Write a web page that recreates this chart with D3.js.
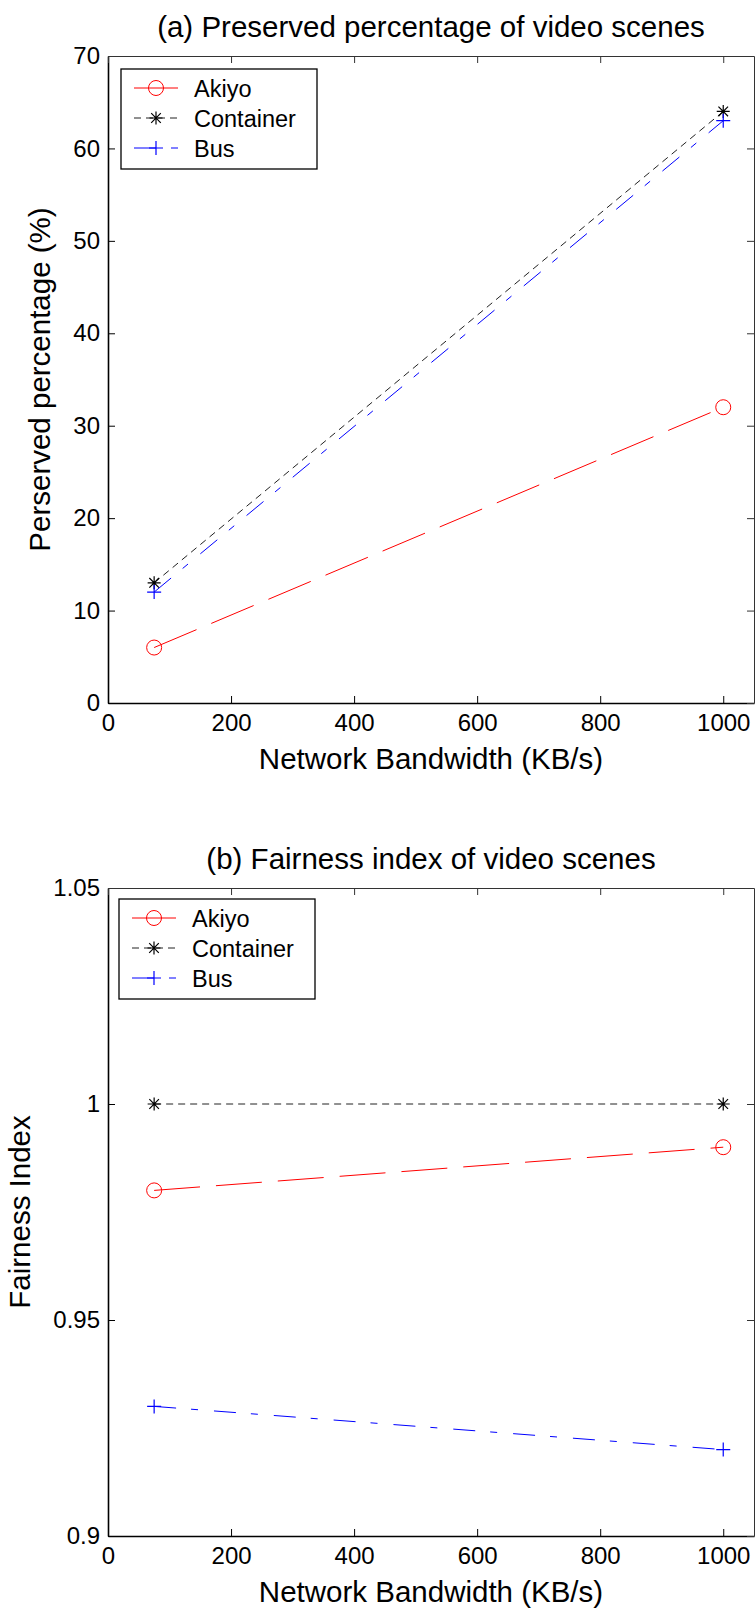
<!DOCTYPE html>
<html>
<head>
<meta charset="utf-8">
<script src="https://cdn.jsdelivr.net/npm/d3@7"></script>
<style>
  body { margin: 0; background: #fff; }
  svg text { font-family: "Liberation Sans", Arial, sans-serif; fill: #000; }
</style>
</head>
<body>
<svg id="chart"></svg>
<script>
// data
const bandwidth = [75, 1000];
const seriesNames = ["Akiyo", "Container", "Bus"];

const preservedAkiyo = [6, 32];
const preservedContainer = [13, 64];
const preservedBus = [12, 63];

const fairnessAkiyo = [0.98, 0.99];
const fairnessContainer = [1, 1];
const fairnessBus = [0.93, 0.92];

const xTicks = [0, 200, 400, 600, 800, 1000];
const preservedTicks = [0, 10, 20, 30, 40, 50, 60, 70];
const fairnessTicks = [0.9, 0.95, 1, 1.05];

// line / marker style per series
const styles = {
  Akiyo: { color: "#ff0000", dash: "46,16", marker: "circle" },
  Container: { color: "#222", dash: "7,5", marker: "star" },
  Bus: { color: "#0000ff", dash: "22,15,7,16", marker: "plus" },
};

const W = 755, H = 1608;
const svg = d3.select("#chart").attr("width", W).attr("height", H);

function drawMarker(g, type, x, y, color) {
  if (type === "circle") {
    g.append("circle").attr("cx", x).attr("cy", y).attr("r", 7.5)
      .attr("fill", "none").attr("stroke", color).attr("stroke-width", 1);
  } else if (type === "plus") {
    g.append("path").attr("d", `M${x - 7},${y}H${x + 7}M${x},${y - 7}V${y + 7}`)
      .attr("stroke", color).attr("stroke-width", 1.2).attr("fill", "none");
  } else {
    const a = 6.5, d = 4.8;
    g.append("path")
      .attr("d", `M${x - a},${y}H${x + a}M${x},${y - a}V${y + a}` +
        `M${x - d},${y - d}L${x + d},${y + d}M${x - d},${y + d}L${x + d},${y - d}`)
      .attr("stroke", "#000").attr("stroke-width", 1.2).attr("fill", "none");
  }
}

function drawPanel(cfg) {
  const left = 108, right = 754;
  const xscale = d3.scaleLinear().domain([0, 1050]).range([left, right]);
  const yscale = d3.scaleLinear().domain(cfg.yDomain).range([cfg.bottom, cfg.top]);

  const g = svg.append("g");

  // axes, ticks pointing inward
  const xaxis = d3.axisBottom(xscale).tickValues(xTicks).tickFormat(d3.format("d"))
    .tickSizeInner(-7).tickSizeOuter(0).tickPadding(11);
  const gx = g.append("g").attr("transform", `translate(0,${cfg.bottom})`).call(xaxis);
  const yaxis = d3.axisLeft(yscale).tickValues(cfg.yTicks).tickFormat(cfg.yFormat)
    .tickSizeInner(-7).tickSizeOuter(0).tickPadding(8);
  const gy = g.append("g").attr("transform", `translate(${left},0)`).call(yaxis);

  const gxt = g.append("g").attr("transform", `translate(0,${cfg.top})`)
    .call(d3.axisTop(xscale).tickValues(xTicks).tickFormat("").tickSizeInner(-7).tickSizeOuter(0));
  const gyr = g.append("g").attr("transform", `translate(${right},0)`)
    .call(d3.axisRight(yscale).tickValues(cfg.yTicks).tickFormat("").tickSizeInner(-7).tickSizeOuter(0));

  [gx, gy].forEach((a) => {
    a.select(".domain").attr("stroke", "#000").attr("stroke-width", 1.6);
    a.selectAll(".tick line").attr("stroke", "#000");
    a.selectAll("text").style("font-size", "24px").attr("fill", "#000");
  });
  [gxt, gyr].forEach((a) => {
    a.select(".domain").attr("stroke", "#333").attr("stroke-width", 1);
    a.selectAll(".tick line").attr("stroke", "#333");
  });

  // series lines
  const line = d3.line().x((d) => xscale(d[0])).y((d) => yscale(d[1]));
  cfg.series.forEach((vals, i) => {
    const st = styles[seriesNames[i]];
    const pts = bandwidth.map((b, j) => [b, vals[j]]);
    g.append("path").datum(pts).attr("d", line)
      .attr("fill", "none").attr("stroke", st.color).attr("stroke-width", 1)
      .attr("stroke-dasharray", st.dash);
  });
  cfg.series.forEach((vals, i) => {
    const st = styles[seriesNames[i]];
    bandwidth.forEach((b, j) => drawMarker(g, st.marker, xscale(b), yscale(vals[j]), st.color));
  });

  // title and labels
  const cx = (left + right) / 2;
  g.append("text").attr("x", cx).attr("y", cfg.top - 19).attr("text-anchor", "middle")
    .style("font-size", "29.5px").text(cfg.title);
  g.append("text").attr("x", cx).attr("y", cfg.bottom + 66).attr("text-anchor", "middle")
    .style("font-size", "29.5px").text("Network Bandwidth (KB/s)");
  g.append("text")
    .attr("transform", `translate(${cfg.ylabelX},${(cfg.top + cfg.bottom) / 2}) rotate(-90)`)
    .attr("text-anchor", "middle").style("font-size", "29.5px").text(cfg.ylabel);

  // legend
  const lx = cfg.legend[0], ly = cfg.legend[1];
  const lg = g.append("g");
  lg.append("rect").attr("x", lx).attr("y", ly).attr("width", 196).attr("height", 100)
    .attr("fill", "#fff").attr("stroke", "#000").attr("stroke-width", 1.3);
  seriesNames.forEach((name, i) => {
    const st = styles[name];
    const ry = ly + 19 + i * 30;
    lg.append("path").attr("d", `M${lx + 13},${ry}H${lx + 57}`)
      .attr("stroke", st.color).attr("stroke-width", 1).attr("stroke-dasharray", st.dash);
    drawMarker(lg, st.marker, lx + 35, ry, st.color);
    lg.append("text").attr("x", lx + 73).attr("y", ry + 8.5).style("font-size", "23.5px").text(name);
  });
}

drawPanel({
  top: 56, bottom: 703,
  yDomain: [0, 70], yTicks: preservedTicks, yFormat: d3.format("d"),
  series: [preservedAkiyo, preservedContainer, preservedBus],
  title: "(a) Preserved percentage of video scenes",
  ylabel: "Perserved percentage (%)", ylabelX: 50,
  legend: [121, 69],
});

drawPanel({
  top: 888, bottom: 1536,
  yDomain: [0.9, 1.05], yTicks: fairnessTicks, yFormat: (d) => String(+d.toFixed(2)),
  series: [fairnessAkiyo, fairnessContainer, fairnessBus],
  title: "(b) Fairness index of video scenes",
  ylabel: "Fairness Index", ylabelX: 30,
  legend: [119, 899],
});
</script>
</body>
</html>
